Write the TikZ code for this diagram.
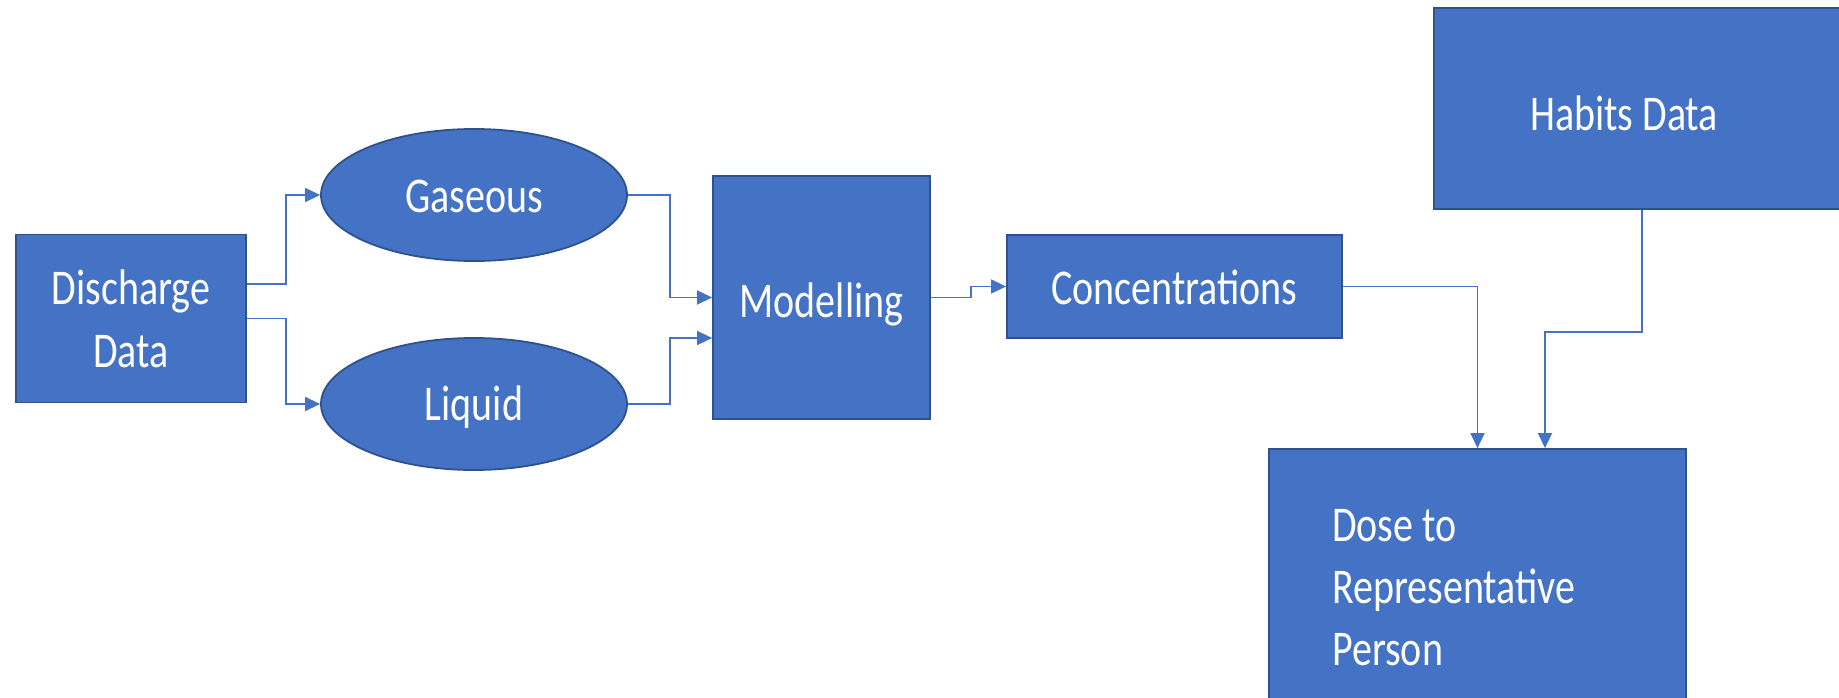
\documentclass[tikz,border=0pt]{standalone}
\usepackage{fontspec}
\setmainfont{Carlito}[FakeStretch=0.8]
\usetikzlibrary{arrows.meta,shapes.geometric}
\definecolor{boxblue}{HTML}{4472C4}
\definecolor{edgeblue}{HTML}{2F528F}
\newcommand{\lowerby}[2]{\raisebox{-#1}[\height][\depth]{#2}}
\begin{document}
\begin{tikzpicture}[x=1pt,y=-1pt,
  box/.style={draw=edgeblue,line width=1.8pt,fill=boxblue,inner sep=0pt,
    text=white,font=\fontsize{50}{63}\selectfont,align=center},
  oval/.style={box,ellipse},
  conn/.style={draw=boxblue,line width=1.5pt,-{Triangle[length=15pt,width=14pt]}}]
\useasboundingbox (0,0) rectangle (1839,698);
\clip (0,0) rectangle (1839,698);
\fill[white] (0,0) rectangle (1839,698);
\node[box,minimum width=230pt,minimum height=168pt] (discharge) at (131,318.5) {Discharge\\Data};
\node[oval,minimum width=306pt,minimum height=132pt] (gaseous) at (474,195) {\lowerby{1pt}{Gaseous}};
\node[oval,minimum width=306pt,minimum height=132pt] (liquid) at (474,404) {\lowerby{3.5pt}{Liquid}};
\node[box,minimum width=217pt,minimum height=243pt] (modelling) at (821.5,297.5) {\lowerby{7pt}{Modelling}};
\node[box,minimum width=335pt,minimum height=103pt] (conc) at (1174.5,286.5) {\lowerby{1pt}{Concentrations}};
\node[box,minimum width=416pt,minimum height=201pt] (habits) at (1642,108.5) {};
\node[text=white,font=\fontsize{50}{63}\selectfont,inner sep=0pt] (habitstext) at (1624,113) {Habits Data};
\node[box,minimum width=417pt,minimum height=280pt] (dose) at (1477.5,589) {};
\node[text=white,font=\fontsize{50}{62}\selectfont,align=left,anchor=west,inner sep=0pt] (dosetext) at (1332,588) {Dose to\\Representative\\Person};
\draw[conn] ([yshift=34.5pt]discharge.east) -- ++(39,0) |- (gaseous.west);
\draw[conn] (discharge.east) -- ++(39,0) |- (liquid.west);
\draw[conn] (gaseous.east) -- ++(42,0) |- (modelling.west);
\draw[conn] (liquid.east) -- ++(42,0) |- ([yshift=-40.5pt]modelling.west);
\draw[conn] (modelling.east) -- ++(40,0) |- (conc.west);
\draw[conn] (conc.east) -| (dose.north);
\draw[conn] (habits.south) -- ++(0,122) -| ([xshift=67.5pt]dose.north);
\end{tikzpicture}
\end{document}
